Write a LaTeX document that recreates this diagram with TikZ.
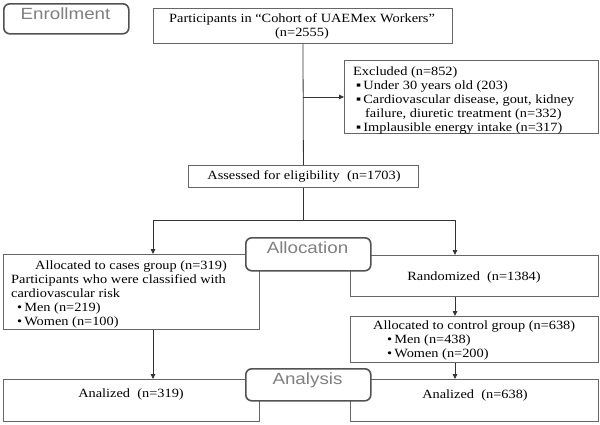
\documentclass[tikz,border=0pt]{standalone}
\usepackage{fontspec}
\setmainfont{Liberation Serif}[FakeStretch=1.14]
\newfontfamily\labelfont{Liberation Sans}[FakeStretch=1.16]
\usetikzlibrary{arrows.meta}
\begin{document}
\begin{tikzpicture}[x=1pt,y=-1pt,
  box/.style={draw=black!60, line width=0.9pt, fill=white, inner sep=0, anchor=north west},
  phase/.style={draw=black!68, line width=1.6pt, rounded corners=6pt, fill=white, inner sep=0, anchor=north west},
  phaselabel/.style={font=\labelfont\fontsize{16.2}{18}\selectfont, text=black!50, anchor=base, inner sep=0},
  txt/.style={font=\fontsize{12.6}{14}\selectfont, inner sep=0, align=left},
  link/.style={draw=black!80, line width=0.8pt},
  arr/.style={link, -{Triangle[length=5pt,width=4.5pt]}}]
\useasboundingbox (0,0) rectangle (600,424);
% boxes
\node[box, minimum width=299, minimum height=35] (part) at (153,8) {};
\node[box, minimum width=254, minimum height=73] (excl) at (344,60) {};
\node[box, minimum width=230, minimum height=22] (assess) at (188,165) {};
\node[box, minimum width=256, minimum height=75] (cases) at (3,254) {};
\node[box, minimum width=248, minimum height=41] (rand) at (350,255) {};
\node[box, minimum width=248, minimum height=46] (ctrl) at (350,316) {};
\node[box, minimum width=256, minimum height=42] (anl) at (3,379) {};
\node[box, minimum width=248, minimum height=42] (anr) at (350,379) {};
% split points
\coordinate (sl) at (153,220);
\coordinate (sr) at (455,220);
% connectors
\draw[link] (part.south) -- (assess.north);
\draw[arr] (part.south |- excl.west) -- (excl.west);
\draw[arr] (assess.south) |- (sl) -- (sl |- cases.north);
\draw[arr] (assess.south |- sl) -- (sr) -- (sr |- rand.north);
\draw[arr] (rand.south -| sr) -- (ctrl.north -| sr);
\draw[arr] (ctrl.south -| sr) -- (anr.north -| sr);
\draw[arr] (cases.south -| sl) -- (anl.north -| sl);
% phase boxes
\node[phase, minimum width=125, minimum height=30] (enr) at (3,3) {};
\node[phase, minimum width=125, minimum height=33] (alloc) at (245,237) {};
\node[phase, minimum width=125, minimum height=32] (anph) at (245,368) {};
\node[phaselabel] (enrt) at (65.5,19.5) {Enrollment};
\node[phaselabel] (alloct) at (307.5,253) {Allocation};
\node[phaselabel] (anpht) at (307.5,384) {Analysis};
% texts
\node[txt, align=center, anchor=north] (tpart) at (302,12.2) {\strut Participants in “Cohort of UAEMex Workers”\\(n=2555)};
\node[txt, anchor=north west] (texcl) at (353,65.2) {\strut Excluded (n=852)\\
\hspace*{3pt}▪\,Under 30 years old (203)\\
\hspace*{3pt}▪\,Cardiovascular disease, gout, kidney\\
\hspace*{12pt}failure, diuretic treatment (n=332)\\
\hspace*{3pt}▪\,Implausible energy intake (n=317)};
\node[txt, anchor=base] (tassess) at (304,179) {Assessed for eligibility\ \ (n=1703)};
\node[txt, anchor=north west] (tcases) at (11,259.2) {\strut\hspace*{24pt}Allocated to cases group (n=319)\\
Participants who were classified with\\
cardiovascular risk\\
\hspace*{6pt}•\,Men (n=219)\\
\hspace*{6pt}•\,Women (n=100)};
\node[txt, anchor=base] (trand) at (474,280) {Randomized\ \ (n=1384)};
\node[txt, anchor=north west] (tctrl) at (373,319.2) {\strut Allocated to control group (n=638)\\
\hspace*{14pt}•\,Men (n=438)\\
\hspace*{14pt}•\,Women (n=200)};
\node[txt, anchor=base] (tanl) at (131,397) {Analized\ \ (n=319)};
\node[txt, anchor=base] (tanr) at (475,398) {Analized\ \ (n=638)};
\end{tikzpicture}
\end{document}
